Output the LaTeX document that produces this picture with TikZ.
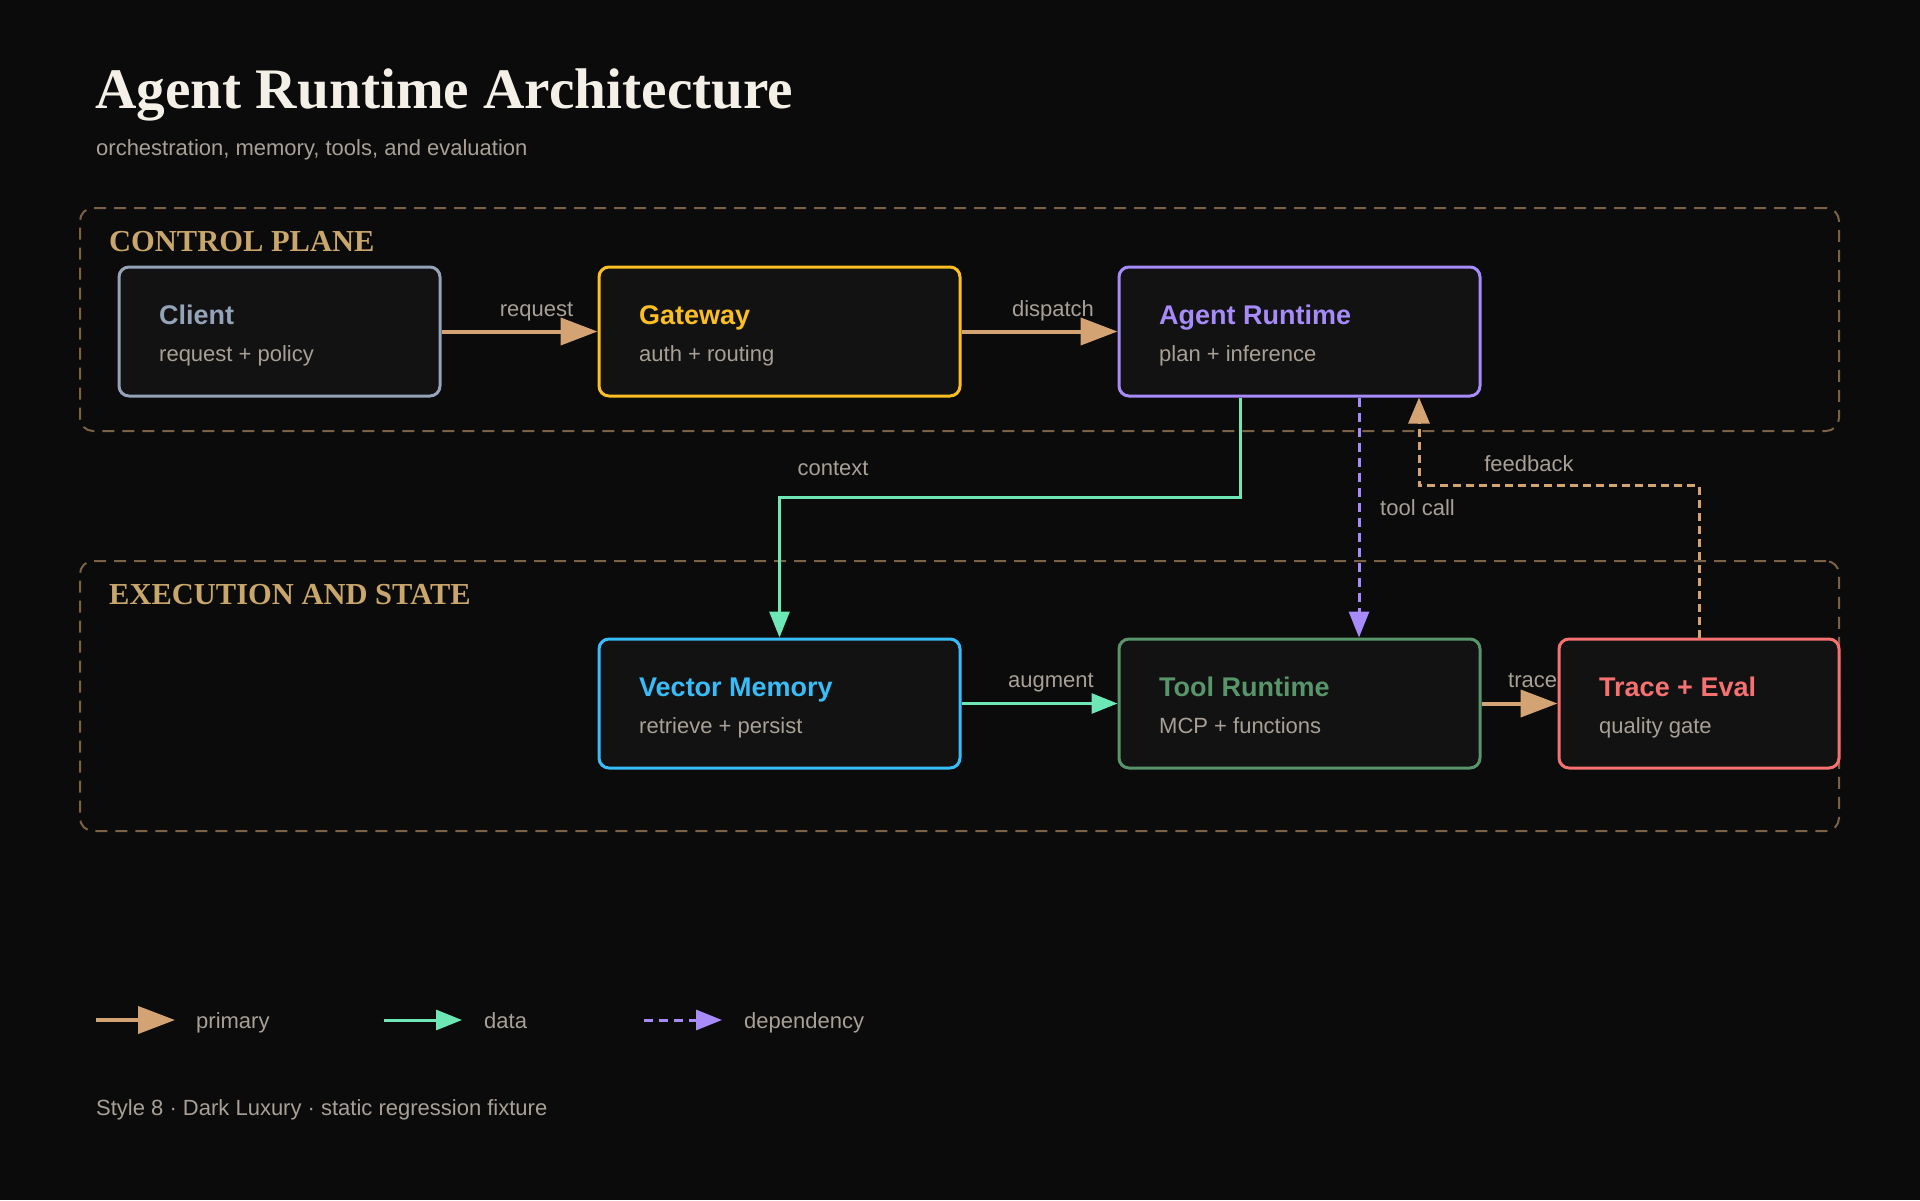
\documentclass[tikz,border=0pt]{standalone}
\usepackage{fontspec}
\setmainfont{Liberation Serif}
\setsansfont{Liberation Sans}
\usetikzlibrary{arrows.meta,positioning}

\definecolor{bgdark}{HTML}{0B0B0B}
\definecolor{boxfill}{HTML}{121212}
\definecolor{titletext}{HTML}{F4EFE7}
\definecolor{mutedtext}{HTML}{A8A096}
\definecolor{goldlabel}{HTML}{C9A66B}
\definecolor{groupline}{HTML}{7A6246}
\definecolor{clientc}{HTML}{94A3B8}
\definecolor{gatewayc}{HTML}{FBBF24}
\definecolor{agentc}{HTML}{A78BFA}
\definecolor{vectorc}{HTML}{38BDF8}
\definecolor{toolc}{HTML}{58956A}
\definecolor{tracec}{HTML}{F87171}
\definecolor{primaryc}{HTML}{D4A373}
\definecolor{datac}{HTML}{6EE7B7}

\begin{document}
\begin{tikzpicture}[x=1pt,y=-1pt]
\tikzset{
  compbox/.style={rectangle,rounded corners=10pt,draw=#1,line width=3pt,fill=boxfill,minimum height=129pt,inner sep=0pt},
  comptitle/.style={anchor=base west,inner sep=0pt,text=#1,font=\sffamily\bfseries\fontsize{27}{32}\selectfont},
  compsub/.style={anchor=base west,inner sep=0pt,text=mutedtext,font=\sffamily\fontsize{22}{26}\selectfont},
  groupbox/.style={rectangle,rounded corners=13pt,draw=groupline,line width=2pt,dash pattern=on 12pt off 8pt,inner sep=0pt},
  grouplabel/.style={anchor=base west,inner sep=0pt,text=goldlabel,font=\rmfamily\bfseries\fontsize{30.5}{36}\selectfont},
  edgelabel/.style={anchor=base,inner sep=0pt,text=mutedtext,font=\sffamily\fontsize{22}{26}\selectfont},
  primary/.style={draw=primaryc,line width=4pt,-{Triangle[length=37pt,width=27pt]}},
  datalink/.style={draw=datac,line width=3pt,-{Triangle[length=26pt,width=20pt]}},
  dependency/.style={draw=agentc,line width=3pt,dash pattern=on 9pt off 6pt,-{Triangle[length=26pt,width=20pt]}},
  feedbacklink/.style={draw=primaryc,line width=3pt,dash pattern=on 8pt off 5pt,-{Triangle[length=26pt,width=21pt]}}
}
\fill[bgdark] (0,0) rectangle (1920,1200);
\useasboundingbox (0,0) rectangle (1920,1200);
\node[anchor=base west,inner sep=0pt,text=titletext,font=\rmfamily\bfseries\fontsize{57.3}{64}\selectfont] (h_title) at (95,108) {Agent Runtime Architecture};
\node[compsub] (h_subtitle) at (96,155.7) {orchestration, memory, tools, and evaluation};
\node[groupbox,minimum width=1759pt,minimum height=223pt] (g_control) at (959.5,319.5) {};
\node[groupbox,minimum width=1759pt,minimum height=270pt] (g_exec) at (959.5,696) {};
\node[grouplabel] (l_control) at (109,251) {CONTROL PLANE};
\node[grouplabel] (l_exec) at (109,604) {EXECUTION AND STATE};
\node[compbox=clientc,minimum width=321pt] (n_client) at (279.5,331.5) {};
\node[compbox=gatewayc,minimum width=361pt] (n_gateway) at (779.5,331.5) {};
\node[compbox=agentc,minimum width=361pt] (n_agent) at (1299.5,331.5) {};
\node[compbox=vectorc,minimum width=361pt] (n_vector) at (779.5,703.5) {};
\node[compbox=toolc,minimum width=361pt] (n_tool) at (1299.5,703.5) {};
\node[compbox=tracec,minimum width=280pt] (n_trace) at (1699,703.5) {};
\node[comptitle=clientc] (t_client) at ([xshift=41.5pt,yshift=-58.7pt]n_client.north west) {Client};
\node[compsub] (s_client) at ([xshift=41.5pt,yshift=-95.5pt]n_client.north west) {request + policy};
\node[comptitle=gatewayc] (t_gateway) at ([xshift=41.5pt,yshift=-58.7pt]n_gateway.north west) {Gateway};
\node[compsub] (s_gateway) at ([xshift=41.5pt,yshift=-95.5pt]n_gateway.north west) {auth + routing};
\node[comptitle=agentc] (t_agent) at ([xshift=41.5pt,yshift=-58.7pt]n_agent.north west) {Agent Runtime};
\node[compsub] (s_agent) at ([xshift=41.5pt,yshift=-95.5pt]n_agent.north west) {plan + inference};
\node[comptitle=vectorc] (t_vector) at ([xshift=41.5pt,yshift=-58.7pt]n_vector.north west) {Vector Memory};
\node[compsub] (s_vector) at ([xshift=41.5pt,yshift=-95.5pt]n_vector.north west) {retrieve + persist};
\node[comptitle=toolc] (t_tool) at ([xshift=41.5pt,yshift=-58.7pt]n_tool.north west) {Tool Runtime};
\node[compsub] (s_tool) at ([xshift=41.5pt,yshift=-95.5pt]n_tool.north west) {MCP + functions};
\node[comptitle=tracec] (t_trace) at ([xshift=41.5pt,yshift=-58.7pt]n_trace.north west) {Trace + Eval};
\node[compsub] (s_trace) at ([xshift=41.5pt,yshift=-95.5pt]n_trace.north west) {quality gate};
\draw[primary] (n_client) -- (n_gateway);
\draw[primary] (n_gateway) -- (n_agent);
\draw[datalink] ([xshift=-59.5pt]n_agent.south) -- ++(0,100) -| (n_vector.north);
\draw[dependency] ([xshift=59.5pt]n_agent.south) -- ([xshift=59.5pt]n_tool.north);
\draw[feedbacklink] (n_trace.north) -- ++(0,-152) -| ([xshift=119.5pt]n_agent.south);
\draw[datalink] (n_vector) -- (n_tool);
\draw[primary] (n_tool) -- (n_trace);
\node[edgelabel] (e_request) at (536.5,316) {request};
\node[edgelabel] (e_dispatch) at (1053,316) {dispatch};
\node[edgelabel] (e_context) at (833,475) {context};
\node[edgelabel,anchor=base west] (e_toolcall) at (1380,515.7) {tool call};
\node[edgelabel] (e_feedback) at (1529,471.7) {feedback};
\node[edgelabel] (e_augment) at (1051,687.7) {augment};
\node[edgelabel] (e_trace) at (1532.6,687.7) {trace};
\coordinate (k_primary_a) at (96,1020);
\coordinate (k_primary_b) at (175,1020);
\coordinate (k_data_a) at (384,1020);
\coordinate (k_data_b) at (462,1020);
\coordinate (k_dep_a) at (644,1020);
\coordinate (k_dep_b) at (722,1020);
\draw[primary] (k_primary_a) -- (k_primary_b);
\draw[datalink] (k_data_a) -- (k_data_b);
\draw[dependency] (k_dep_a) -- (k_dep_b);
\node[edgelabel,anchor=base west] (k_primary) at (196,1028) {primary};
\node[edgelabel,anchor=base west] (k_data) at (484,1028) {data};
\node[edgelabel,anchor=base west] (k_dep) at (744,1028) {dependency};
\node[edgelabel,anchor=base west] (f_note) at (96,1115) {Style 8 · Dark Luxury · static regression fixture};
\end{tikzpicture}
\end{document}
